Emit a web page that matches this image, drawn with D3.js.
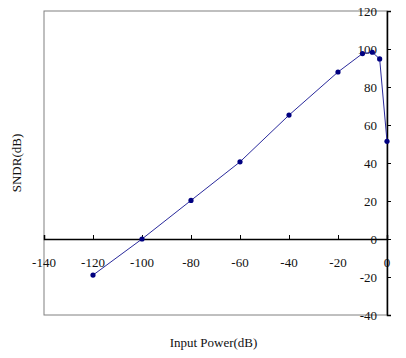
<!DOCTYPE html>
<html>
<head>
<meta charset="utf-8">
<script src="https://cdn.jsdelivr.net/npm/d3@7"></script>
<style>
  body { margin: 0; background: #fff; }
  svg text { font-family: "Liberation Serif", "DejaVu Serif", serif; }
</style>
</head>
<body>
<div id="root"></div>
<script>
// data
const inputPower = [-120, -100, -80, -60, -40, -20, -10, -6, -3, 0];
const sndr = [-19, 0, 20.3, 40.6, 65.2, 87.9, 97.6, 98.3, 94.8, 51.4];
const xTicks = [-140, -120, -100, -80, -60, -40, -20, 0];
const yTicks = [-40, -20, 0, 20, 40, 60, 80, 100, 120];

const W = 406, H = 358;
const plot = { left: 44, right: 387, top: 11, bottom: 315 };

const svg = d3.select("#root")
    .append("svg")
    .attr("width", W)
    .attr("height", H);

const x = d3.scaleLinear().domain([-140, 0]).range([plot.left, plot.right]);
const y = d3.scaleLinear().domain([-40, 120]).range([plot.bottom, plot.top]);

// plot area border
svg.append("rect")
    .attr("x", plot.left).attr("y", plot.top)
    .attr("width", plot.right - plot.left).attr("height", plot.bottom - plot.top)
    .attr("fill", "none")
    .attr("stroke", "#808080")
    .attr("stroke-width", 1);

// x axis along y = 0
const xAxis = svg.append("g")
    .attr("transform", "translate(0," + y(0) + ")")
    .call(d3.axisTop(x).tickValues(xTicks).tickSize(4).tickFormat(""));
xAxis.select(".domain").attr("stroke", "#000").attr("stroke-width", 1.5);
xAxis.selectAll(".tick line").attr("stroke", "#000");

svg.append("g")
    .selectAll("text")
    .data(xTicks)
    .enter()
    .append("text")
    .attr("x", function(d) { return x(d); })
    .attr("y", y(0) + 28)
    .attr("text-anchor", "middle")
    .attr("font-size", 13)
    .attr("fill", "#111")
    .text(function(d) { return d; });

// y axis on the right (x = 0)
const yAxis = svg.append("g")
    .attr("transform", "translate(" + x(0) + ",0)")
    .call(d3.axisRight(y).tickValues(yTicks).tickSize(4).tickFormat(""));
yAxis.select(".domain").attr("stroke", "#000").attr("stroke-width", 1.5);
yAxis.selectAll(".tick line").attr("stroke", "#000");

svg.append("g")
    .selectAll("text")
    .data(yTicks)
    .enter()
    .append("text")
    .attr("x", x(0) - 10)
    .attr("y", function(d) { return y(d); })
    .attr("dy", "0.35em")
    .attr("text-anchor", "end")
    .attr("font-size", 13)
    .attr("fill", "#111")
    .text(function(d) { return d; });

// series
const pts = inputPower.map(function(p, i) { return [p, sndr[i]]; });
const line = d3.line()
    .x(function(d) { return x(d[0]); })
    .y(function(d) { return y(d[1]); });

svg.append("path")
    .datum(pts)
    .attr("d", line)
    .attr("fill", "none")
    .attr("stroke", "#2a2a9c")
    .attr("stroke-width", 1);

svg.selectAll("circle.marker")
    .data(pts)
    .enter()
    .append("circle")
    .attr("class", "marker")
    .attr("cx", function(d) { return x(d[0]); })
    .attr("cy", function(d) { return y(d[1]); })
    .attr("r", 2.6)
    .attr("fill", "#000080");

// axis titles
svg.append("text")
    .attr("x", (plot.left + plot.right) / 2 - 2)
    .attr("y", 347)
    .attr("text-anchor", "middle")
    .attr("font-size", 13)
    .attr("fill", "#111")
    .text("Input Power(dB)");

svg.append("text")
    .attr("transform", "translate(21," + ((plot.top + plot.bottom) / 2) + ") rotate(-90)")
    .attr("text-anchor", "middle")
    .attr("font-size", 13)
    .attr("fill", "#111")
    .text("SNDR(dB)");
</script>
</body>
</html>
